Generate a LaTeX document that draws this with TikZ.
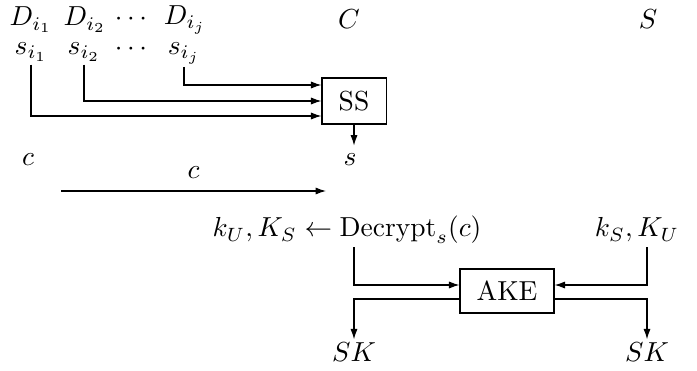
\documentclass[tikz,border=0pt]{standalone}
\usetikzlibrary{arrows.meta,calc}
\begin{document}
\begin{tikzpicture}[x={(0.3636pt,0)},y={(0,-0.3636pt)},
  arr/.style={-{Latex[length=3.8pt,width=2.6pt]}},
  lbl/.style={inner sep=1pt},
  box/.style={draw,inner sep=0pt}]
\useasboundingbox (0,0) rectangle (697,370);
% top labels
\node[lbl] (D1) at (31,20) {$D_{i_1}$};
\node[lbl] (D2) at (85,20) {$D_{i_2}$};
\node[lbl] (Ddots) at (131,19) {$\cdots$};
\node[lbl] (Dj) at (185,20) {$D_{i_j}$};
\node[lbl] (C) at (349,19) {$C$};
\node[lbl] (S) at (648,19) {$S$};
\node[lbl] (s1) at (31,52) {$s_{i_1}$};
\node[lbl] (s2) at (84,52) {$s_{i_2}$};
\node[lbl] (sdots) at (131,49) {$\cdots$};
\node[lbl] (sj) at (184,53) {$s_{i_j}$};
% SS box
\node[box,minimum width=23.3pt,minimum height=16.7pt] (SS) at (354,101) {SS};
\draw[arr] (sj.south) |- ($(SS.west)+(0,-16)$);
\draw[arr] (s2.south) |- (SS.west);
\draw[arr] (s1.south) |- ($(SS.west)+(0,15)$);
\node[lbl] (s) at (350,160) {$s$};
\coordinate (sin) at ($(SS.south)+(0,21)$);
\draw[arr] (SS.south) -- (sin);
% c
\node[lbl] (c) at (28,160) {$c$};
\coordinate (ca) at (61,191);
\coordinate (cb) at (326,191);
\draw[arr] (ca) -- node[above=1pt] (cl) {$c$} (cb);
% AKE part
\node[lbl] (dec) at (347,230) {$k_U,K_S\leftarrow \mathrm{Decrypt}_s(c)$};
\node[lbl] (ks) at (637,230) {$k_S,K_U$};
\node[box,minimum width=34.2pt,minimum height=16pt] (AKE) at (507,291) {AKE};
\node[lbl] (SK1) at (354,352) {$SK$};
\node[lbl] (SK2) at (647,352) {$SK$};
\coordinate (dtop) at (354,247);
\coordinate (ktop) at (647,247);
\draw[arr] (dtop) |- ($(AKE.west)+(0,-6)$);
\draw[arr] (ktop) |- ($(AKE.east)+(0,-6)$);
\draw[arr] ($(AKE.west)+(0,8)$) -| (SK1.north);
\draw[arr] ($(AKE.east)+(0,8)$) -| (SK2.north);
\end{tikzpicture}
\end{document}
